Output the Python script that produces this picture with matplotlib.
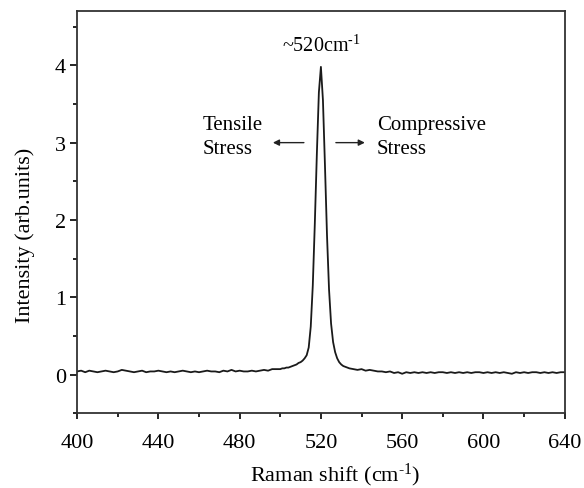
import numpy as np
import matplotlib
matplotlib.use("Agg")
import matplotlib.pyplot as plt

# baseline left of the peak, 400..498 every 2 cm-1
shift_left = np.arange(400, 500, 2)
int_left = [0.04, 0.05, 0.03, 0.05, 0.04, 0.03, 0.04, 0.05, 0.04, 0.03,
            0.04, 0.06, 0.05, 0.04, 0.03, 0.04, 0.05, 0.03, 0.04, 0.04,
            0.05, 0.04, 0.03, 0.04, 0.03, 0.04, 0.05, 0.04, 0.03, 0.04,
            0.03, 0.04, 0.05, 0.04, 0.04, 0.03, 0.05, 0.04, 0.06, 0.04,
            0.05, 0.04, 0.04, 0.05, 0.04, 0.05, 0.06, 0.05, 0.07, 0.07]

# peak region, 500..534 every 1 cm-1
shift_peak = np.arange(500, 535, 1)
int_peak = [0.07, 0.08, 0.08, 0.09, 0.09, 0.10, 0.11, 0.12, 0.13, 0.15,
            0.16, 0.18, 0.21, 0.25, 0.35, 0.62, 1.15, 1.95, 2.85, 3.65,
            3.98, 3.55, 2.70, 1.80, 1.10, 0.66, 0.42, 0.29, 0.21, 0.16,
            0.13, 0.11, 0.10, 0.09, 0.08]

# baseline right of the peak, 536..640 every 2 cm-1
shift_right = np.arange(536, 641, 2)
int_right = [0.07, 0.06, 0.07, 0.05, 0.06, 0.05, 0.04, 0.04, 0.03, 0.04,
             0.02, 0.03, 0.01, 0.03, 0.02, 0.03, 0.02, 0.03, 0.02, 0.03,
             0.02, 0.03, 0.03, 0.02, 0.03, 0.02, 0.03, 0.02, 0.03, 0.02,
             0.03, 0.03, 0.02, 0.03, 0.02, 0.03, 0.02, 0.03, 0.02, 0.01,
             0.03, 0.02, 0.03, 0.02, 0.03, 0.03, 0.02, 0.03, 0.02, 0.03,
             0.02, 0.03, 0.03]

x = np.concatenate([shift_left, shift_peak, shift_right])
y = np.concatenate([int_left, int_peak, int_right])

plt.rcParams["font.family"] = ["Liberation Serif", "DejaVu Serif"]
plt.rcParams["mathtext.fontset"] = "custom"
plt.rcParams["mathtext.rm"] = "Liberation Serif"
plt.rcParams["mathtext.it"] = "Liberation Serif:italic"

fig = plt.figure(figsize=(5.84, 4.89), dpi=100)
ax = fig.add_axes([0.132, 0.153, 0.835, 0.822])

ax.plot(x, y, color="#1a1a1a", lw=1.3)

ax.set_xlim(400, 640)
ax.set_ylim(-0.5, 4.7)
ax.set_xticks(np.arange(400, 641, 40))
ax.set_xticks(np.arange(400, 641, 20), minor=True)
ax.set_yticks([0, 1, 2, 3, 4])
ax.set_yticks(np.arange(-0.5, 4.6, 0.5), minor=True)
ax.tick_params(which="major", direction="out", length=5, width=1.2, labelsize=16,
               top=False, right=False)
ax.tick_params(which="minor", direction="out", length=3, width=1.2,
               top=False, right=False)
ax.tick_params(axis="x", which="major", length=4.5, pad=10)
ax.tick_params(axis="y", which="major", pad=3)
for s in ax.spines.values():
    s.set_linewidth(1.3)
    s.set_color("#333333")

ax.set_xlabel("Raman shift (cm$^{\\text{-}1}$)", fontsize=16)
ax.xaxis.set_label_coords(0.529, -0.118)
ax.set_ylabel("Intensity (arb.units)", fontsize=16)
ax.yaxis.set_label_coords(-0.086, 0.445)

ax.text(520, 4.19, "~520cm$^{\\text{-}1}$", ha="center", va="baseline", fontsize=14.5)
ax.text(462, 3.08, "Tensile\nStress", ha="left", va="center", fontsize=15,
        linespacing=1.35)
ax.text(547.5, 3.08, "Compressive\nStress", ha="left", va="center", fontsize=15,
        linespacing=1.35)
ax.annotate("", xy=(495, 3.0), xytext=(513, 3.0),
            arrowprops=dict(arrowstyle="-|>", color="#222222", lw=1, mutation_scale=9))
ax.annotate("", xy=(543, 3.0), xytext=(526, 3.0),
            arrowprops=dict(arrowstyle="-|>", color="#222222", lw=1, mutation_scale=9))

fig.savefig("out.png", dpi=100)
